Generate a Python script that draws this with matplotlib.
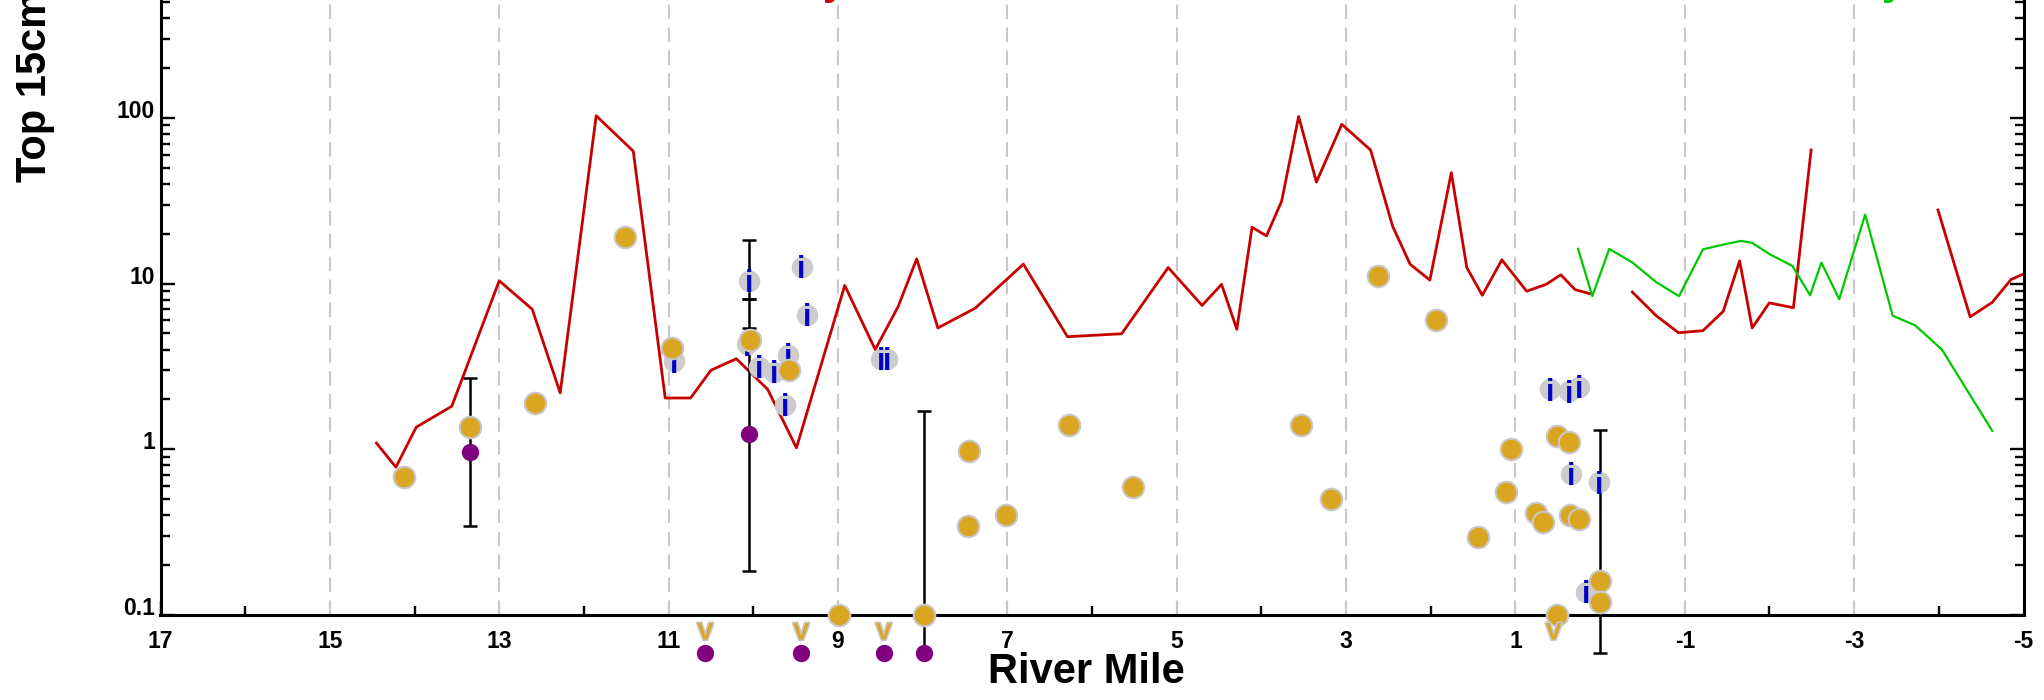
import matplotlib
matplotlib.use('Agg')
import matplotlib.pyplot as plt
import matplotlib.patheffects as pe
from matplotlib.ticker import LogLocator, NullFormatter

# river mile / concentration
red_a_mile = [14.45, 14.22, 13.98, 13.56, 13.0, 12.61, 12.28, 11.855, 11.417, 11.04,
              10.74, 10.5, 10.2, 9.83, 9.49, 8.92, 8.56, 8.29, 8.07, 7.82,
              7.38, 6.81, 6.29, 5.65, 5.10, 4.70, 4.47, 4.29, 4.11, 3.94,
              3.76, 3.56, 3.35, 3.05, 2.71, 2.45, 2.244, 2.01, 1.757, 1.574,
              1.391, 1.16, 0.867, 0.636, 0.464, 0.295, 0.125]
red_a_val = [1.09, 0.78, 1.36, 1.82, 10.4, 7.0, 2.19, 103, 63, 2.04,
             2.04, 3.0, 3.52, 2.3, 1.02, 9.75, 4.0, 7.25, 14.1, 5.4,
             7.1, 13.1, 4.78, 4.98, 12.5, 7.38, 9.9, 5.3, 21.9, 19.4,
             31.5, 102, 41, 91.5, 64, 22.2, 13.1, 10.5, 46.7, 12.5,
             8.5, 13.9, 9.0, 9.9, 11.3, 9.2, 8.7]
red_b_mile = [-0.38, -0.663, -0.926, -1.215, -1.454, -1.648, -1.796, -1.998, -2.283, -2.492]
red_b_val = [8.9, 6.4, 5.05, 5.2, 6.8, 13.7, 5.4, 7.65, 7.15, 64]
red_c_mile = [-3.99, -4.37, -4.63, -4.854, -5.08]
red_c_val = [27.8, 6.3, 7.7, 10.6, 11.9]

green_mile = [0.26, 0.092, -0.108, -0.382, -0.663, -0.932, -1.215, -1.454, -1.665, -1.796,
              -2.007, -2.27, -2.48, -2.613, -2.824, -3.13, -3.455, -3.72, -4.036, -4.632]
green_val = [16.2, 8.4, 16.2, 13.4, 10.2, 8.4, 16.1, 17.2, 18.1, 17.6,
             15, 12.8, 8.5, 13.4, 8.05, 26.1, 6.4, 5.6, 4.0, 1.29]

gold_mile = [14.12, 13.35, 12.58, 11.52, 10.954, 10.04, 9.58, 8.99, 7.98, 7.457,
             7.47, 7.015, 6.276, 5.52, 3.535, 3.175, 2.62, 1.937, 1.446, 1.05,
             1.107, 0.752, 0.678, 0.507, 0.37, 0.36, 0.254, 0.507, 0.0, 0.0]
gold_val = [0.68, 1.36, 1.91, 19.2, 4.1, 4.56, 3.0, 0.1, 0.1, 0.97,
            0.343, 0.40, 1.40, 0.59, 1.40, 0.50, 11.1, 6.03, 0.296, 1.0,
            0.55, 0.41, 0.362, 1.21, 1.11, 0.40, 0.38, 0.1, 0.16, 0.12]

i_mile = [10.94, 10.05, 10.07, 9.93, 9.75, 9.59, 9.63, 9.43, 9.37, 8.495,
          8.415, 0.587, 0.37, 0.244, 0.338, 0.009, 0.161]
i_val = [3.4, 10.4, 4.3, 3.15, 2.94, 3.73, 1.86, 12.6, 6.5, 3.53,
         3.53, 2.3, 2.24, 2.38, 0.71, 0.632, 0.138]

purple_mile = [13.35, 10.05]
purple_val = [0.96, 1.23]
# off-scale results drawn under the axis
purple_low_mile = [10.567, 9.434, 8.459, 7.985]
purple_low_val = [0.059, 0.059, 0.059, 0.059]
v_mile = [10.567, 9.434, 8.459, 0.548]
v_val = [0.0807, 0.0807, 0.0807, 0.0807]

err_mile = [13.35, 10.05, 10.05, 10.05, 7.985, 0.0]
err_low = [0.343, 8.1, 4.56, 0.185, 0.059, 0.059]
err_high = [2.70, 18.3, 8.1, 5.4, 1.70, 1.30]

label_miles = [17, 15, 13, 11, 9, 7, 5, 3, 1, -1, -3, -5]
minor_miles = [16, 14, 12, 10, 8, 6, 4, 2, 0, -2, -4]
y_ticks = [0.1, 1, 10, 100]
y_labels = ['0.1', '1', '10', '100']


def main():
    plt.rcParams['font.family'] = ['Liberation Sans', 'DejaVu Sans']
    plt.rcParams['font.weight'] = 'bold'

    fig = plt.figure(figsize=(20.44, 7.0), dpi=100)
    # axes top runs past the figure edge, like the cropped original
    ax = fig.add_axes([160.5 / 2044, 85 / 700, 1863 / 2044, 662.8 / 700])
    ax.set_yscale('log')
    ax.set_xlim(17, -5)
    ax.set_ylim(0.1, 1000)

    ax.grid(True, axis='x', which='major', color='#c8c8c8', lw=1.5,
            ls=(0, (7, 4)), zorder=0)
    ax.set_axisbelow(True)

    # lines
    for xs, ys in [(red_a_mile, red_a_val), (red_b_mile, red_b_val), (red_c_mile, red_c_val)]:
        ax.plot(xs, ys, color='#c80000', lw=2.0, zorder=2)
    ax.plot(green_mile, green_val, color='#00c800', lw=1.6, zorder=2)

    # error bars
    ax.vlines(err_mile, err_low, err_high, color='black', lw=1.8, zorder=3, clip_on=False)
    ax.plot(err_mile + err_mile, err_low + err_high, ls='none', marker='_', ms=9.5,
            mew=1.8, color='black', zorder=3, clip_on=False)

    # 'i' markers
    ax.plot(i_mile, i_val, 'o', ms=15.5, color='#cccccc', mew=0, zorder=4, clip_on=False)
    for m, v in zip(i_mile, i_val):
        ax.text(m, v, 'i', color='#0000c8', fontsize=22, weight='bold',
                ha='center', va='center_baseline', zorder=5)

    # gold and purple points
    ax.plot(gold_mile, gold_val, 'o', ms=15.5, mfc='#daa520', mec='#c8c8c8', mew=1.5,
            zorder=6, clip_on=False)
    ax.plot(purple_mile, purple_val, 'o', ms=12.5, color='#800080', mew=0, zorder=6)
    ax.plot(purple_low_mile, purple_low_val, 'o', ms=12.5, color='#800080', mew=0,
            zorder=6, clip_on=False)
    for m, v in zip(v_mile, v_val):
        ax.text(m, v, 'V', color='#daa520', fontsize=17, weight='bold',
                ha='center', va='center_baseline', zorder=6,
                path_effects=[pe.withStroke(linewidth=2.5, foreground='#c8c8c8')])

    # ticks
    ax.set_xticks(label_miles, labels=[str(m) for m in label_miles])
    ax.set_xticks(minor_miles, minor=True)
    ax.tick_params(axis='x', which='major', direction='in', length=10, width=1.5,
                   color='#c8c8c8', pad=10.5, labelsize=16.5)
    ax.tick_params(axis='x', which='minor', direction='in', length=6.5, width=1.7,
                   color='black')
    ax.set_yticks(y_ticks, labels=y_labels, va='baseline')
    ax.yaxis.set_minor_locator(LogLocator(base=10, subs=range(2, 10)))
    ax.yaxis.set_minor_formatter(NullFormatter())
    ax.tick_params(axis='y', which='both', direction='in', left=True, right=True,
                   width=1.7, labelsize=16.5, pad=4)
    ax.tick_params(axis='y', which='major', length=10)
    ax.tick_params(axis='y', which='minor', length=6.5)

    ax.spines['top'].set_visible(False)
    for s in ['left', 'right', 'bottom']:
        ax.spines[s].set_linewidth(2.2)

    fig.text(1086 / 2044, 17 / 700, 'River Mile', fontsize=30, weight='bold',
             ha='center', va='baseline')
    fig.text(35 / 2044, 518 / 700, 'Top 15cm', fontsize=30, weight='bold',
             rotation=90, ha='center', va='bottom')

    # series titles sit above the crop; only their tails show
    fig.text(823 / 2044, 1.0083, 'y', color='#c80000', fontsize=30, weight='bold',
             va='baseline')
    fig.text(1882 / 2044, 1.0083, 'y', color='#00c800', fontsize=30, weight='bold',
             va='baseline')

    fig.savefig('out.png', dpi=100)


if __name__ == '__main__':
    main()
